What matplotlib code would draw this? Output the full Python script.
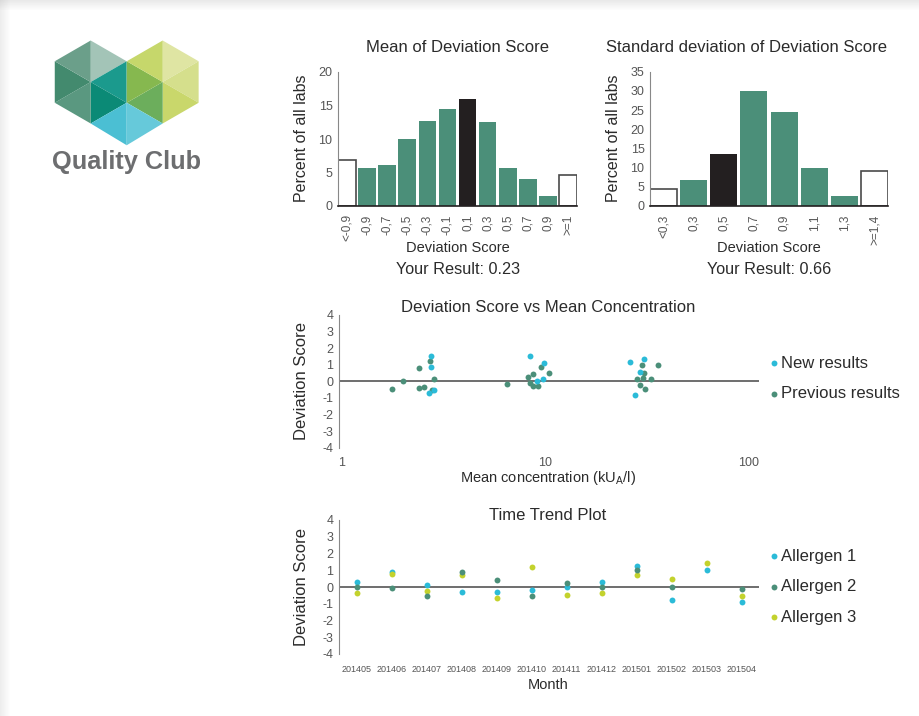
import numpy as np
import matplotlib
matplotlib.use('Agg')
import matplotlib.pyplot as plt
from matplotlib.patches import Polygon, Rectangle

plt.rcParams['font.family'] = ['Liberation Sans', 'DejaVu Sans']
plt.rcParams['axes.unicode_minus'] = False

# --- data -------------------------------------------------------------
mean_labels = ['<-0,9', '-0,9', '-0,7', '-0,5', '-0,3', '-0,1', '0,1', '0,3',
               '0,5', '0,7', '0,9', '>=1']
mean_pct = [6.9, 5.7, 6.1, 10.0, 12.7, 14.5, 16.0, 12.5, 5.7, 4.0, 1.5, 4.7]
mean_result_bin = 6

sd_labels = ['<0,3', '0,3', '0,5', '0,7', '0,9', '1,1', '1,3', '>=1,4']
sd_pct = [4.5, 6.8, 13.6, 30.0, 24.6, 10.0, 2.7, 9.1]
sd_result_bin = 2

new_conc = [2.73, 2.76, 2.67, 2.83, 8.42, 9.9, 9.1, 9.75, 25.9, 30.4, 29.1, 27.6]
new_dev = [1.55, 0.87, -0.71, -0.50, 1.55, 1.11, 0.0, 0.12, 1.15, 1.33, 0.54, -0.81]
prev_conc = [1.76, 2.0, 2.39, 2.41, 2.55, 2.70, 2.83, 2.79,
             6.47, 8.2, 8.42, 8.67, 8.7, 9.23, 9.5, 10.4,
             29.7, 35.8, 30.5, 28.3, 30.2, 32.9, 29.3, 30.8]
prev_dev = [-0.44, 0.02, 0.81, -0.40, -0.36, 1.25, 0.12, -0.52,
            -0.18, 0.24, -0.10, 0.44, -0.28, -0.28, 0.87, 0.50,
            0.97, 0.99, 0.48, 0.14, 0.20, 0.14, -0.24, -0.46]

months = ['201405', '201406', '201407', '201408', '201409', '201410',
          '201411', '201412', '201501', '201502', '201503', '201504']
allergen1 = [0.32, 0.92, 0.10, -0.32, -0.28, -0.18, -0.02, 0.32, 1.27, -0.80, 1.01, -0.90]
allergen2 = [0.0, -0.06, -0.52, 0.92, 0.40, -0.54, 0.26, -0.02, 1.01, 0.02, np.nan, -0.12]
allergen3 = [-0.38, 0.76, -0.22, 0.70, -0.64, 1.19, -0.46, -0.38, 0.72, 0.48, 1.45, -0.56]

# --- style ------------------------------------------------------------
W, H = 919, 716
green = '#4b8f79'
cyan = '#2bbbd8'
lime = '#c3d22d'
dark = '#231f20'
txt = '#2b2b2b'
tick_c = '#555555'
spine_c = '#555555'

fig = plt.figure(figsize=(W / 100, H / 100), dpi=100)
fig.patch.set_facecolor('white')


def px(x, y):
    return x / W, 1 - y / H


def box(l, t, r, b):
    return [l / W, 1 - b / H, (r - l) / W, (b - t) / H]


# page shadow along the top and left edges
for i in range(10):
    a = 0.18 * (1 - i / 10)
    fig.patches.append(Rectangle((0, 1 - (i + 1) / H), 1, 1 / H, transform=fig.transFigure,
                                 color='#888888', alpha=a, lw=0, zorder=0))
    fig.patches.append(Rectangle((i / W, 0), 1 / W, 1, transform=fig.transFigure,
                                 color='#888888', alpha=a * 0.8, lw=0, zorder=0))

# overlay in pixel coordinates for logo and legend dots
lax = fig.add_axes([0, 0, 1, 1], zorder=0)
lax.set_xlim(0, W)
lax.set_ylim(H, 0)
lax.axis('off')


def hexagon_tris(cx, cy, r, cols):
    # pointy-top hexagon split into 6 triangles from its centre
    ang = np.deg2rad([-90, -30, 30, 90, 150, 210])
    vx = cx + r * np.cos(ang)
    vy = cy + r * np.sin(ang)
    for k in range(6):
        pts = [(cx, cy), (vx[k], vy[k]), (vx[(k + 1) % 6], vy[(k + 1) % 6])]
        lax.add_patch(Polygon(pts, closed=True, color=cols[k], lw=0))


R = 41.5
hexagon_tris(90.7, 82.0, R, ['#a3c4b7', '#1b9a8d', '#0b8a76', '#5a9880', '#438a6e', '#6b9f8a'])
hexagon_tris(162.7, 82.0, R, ['#dfe5a3', '#d5df8c', '#c9d76b', '#6cae5c', '#86b84f', '#c6d76b'])
cx, cy = 126.7, 102.75
lax.add_patch(Polygon([(cx, cy), (cx - 36, cy + 20.75), (cx, cy + 42.5)], color='#4bbfd3', lw=0))
lax.add_patch(Polygon([(cx, cy), (cx + 36, cy + 20.75), (cx, cy + 42.5)], color='#66c9da', lw=0))
lax.text(127, 162, 'Quality Club', ha='center', va='center', fontsize=18.3,
         fontweight='bold', color='#6d6e70')


# --- histograms ---------------------------------------------------------
def histogram(rect, labels, vals, hl, width, ymax, step):
    ax = fig.add_axes(rect)
    n = len(vals)
    xs = np.arange(n)
    for i in xs:
        if i == 0 or i == n - 1:
            ax.bar(i, vals[i], width, facecolor='white', edgecolor='#4a4a4a', lw=1.2)
        else:
            ax.bar(i, vals[i], width, color=dark if i == hl else green, lw=0)
    ax.set_xlim(-width / 2, n - 1 + width / 2)
    ax.set_ylim(0, ymax)
    ax.set_yticks(np.arange(0, ymax + 1, step))
    ax.set_xticks(xs)
    ax.set_xticklabels(labels, rotation=90)
    ax.tick_params(length=0, labelcolor=tick_c)
    ax.tick_params(axis='x', pad=6, labelsize=8.5)
    ax.tick_params(axis='y', pad=4, labelsize=9)
    for s in ['top', 'right']:
        ax.spines[s].set_visible(False)
    ax.spines['left'].set_color('#888888')
    ax.spines['bottom'].set_color(dark)
    ax.spines['bottom'].set_linewidth(1.2)
    return ax


histogram(box(338, 72, 577, 206), mean_labels, mean_pct, mean_result_bin, 0.87, 20, 5)
histogram(box(650, 71.7, 888, 206), sd_labels, sd_pct, sd_result_bin, 0.89, 35, 5)

fig.text(*px(458, 48), 'Mean of Deviation Score', ha='center', va='center', fontsize=12, color=txt)
fig.text(*px(747, 48), 'Standard deviation of Deviation Score', ha='center', va='center',
         fontsize=12, color=txt)
for x in (302, 614):
    fig.text(*px(x, 138), 'Percent of all labs', rotation=90, ha='center', va='center',
             fontsize=11.5, color=txt)
for x, res in [(458, 'Your Result: 0.23'), (769, 'Your Result: 0.66')]:
    fig.text(*px(x, 248), 'Deviation Score', ha='center', va='center', fontsize=10.5, color=txt)
    fig.text(*px(x, 270), res, ha='center', va='center', fontsize=11.7, color=txt)


def style_dev_axis(ax):
    ax.set_ylim(-4, 4)
    ax.set_yticks(range(-4, 5))
    ax.axhline(0, color=spine_c, lw=1.2, zorder=1)
    for s in ['top', 'right', 'bottom']:
        ax.spines[s].set_visible(False)
    ax.spines['left'].set_color('#888888')
    ax.tick_params(length=0, labelcolor=tick_c)
    ax.tick_params(axis='y', labelsize=9, pad=4)


def legend_items(items, y0):
    for k, (lbl, c) in enumerate(items):
        y = y0 + 30.5 * k
        fig.text(*px(781, y), lbl, ha='left', va='center', fontsize=12, color=txt)
        lax.scatter([773.5], [y - 0.5], s=18, color=c, lw=0)


# --- scatter vs concentration ------------------------------------------
ax3 = fig.add_axes(box(339, 315, 759, 447.7))
style_dev_axis(ax3)
ax3.set_xscale('log')
ax3.set_xlim(0.97, 112)
ax3.scatter(prev_conc, prev_dev, s=18, color=green, lw=0, zorder=3)
ax3.scatter(new_conc, new_dev, s=18, color=cyan, lw=0, zorder=3)
ax3.set_xticks([1, 10, 100])
ax3.set_xticklabels(['1', '10', '100'])
ax3.minorticks_off()
ax3.tick_params(axis='x', labelsize=9, pad=7)

fig.text(*px(548, 307), 'Deviation Score vs Mean Concentration', ha='center', va='center',
         fontsize=12, color=txt)
fig.text(*px(302, 381), 'Deviation Score', rotation=90, ha='center', va='center',
         fontsize=12, color=txt)
fig.text(*px(548, 478), 'Mean concentration (kU$_\\mathregular{A}$/l)', ha='center',
         va='center', fontsize=10.5, color=txt)
legend_items([('New results', cyan), ('Previous results', green)], 363.5)

# --- time trend ----------------------------------------------------------
ax4 = fig.add_axes(box(339, 520, 759, 654))
style_dev_axis(ax4)
xm = np.arange(len(months))
ax4.set_xlim(-0.5, len(months) - 0.5)
ax4.scatter(xm, allergen1, s=18, color=cyan, lw=0, zorder=3)
ax4.scatter(xm, allergen2, s=18, color=green, lw=0, zorder=4)
ax4.scatter(xm, allergen3, s=18, color=lime, lw=0, zorder=3)
ax4.set_xticks(xm)
ax4.set_xticklabels(months)
ax4.tick_params(axis='x', labelsize=6.5, pad=8)

fig.text(*px(548, 515), 'Time Trend Plot', ha='center', va='center', fontsize=12, color=txt)
fig.text(*px(302, 587), 'Deviation Score', rotation=90, ha='center', va='center',
         fontsize=12, color=txt)
fig.text(*px(548, 685), 'Month', ha='center', va='center', fontsize=10.5, color=txt)
legend_items([('Allergen 1', cyan), ('Allergen 2', green), ('Allergen 3', lime)], 556.5)

fig.savefig('out.png', dpi=100)
